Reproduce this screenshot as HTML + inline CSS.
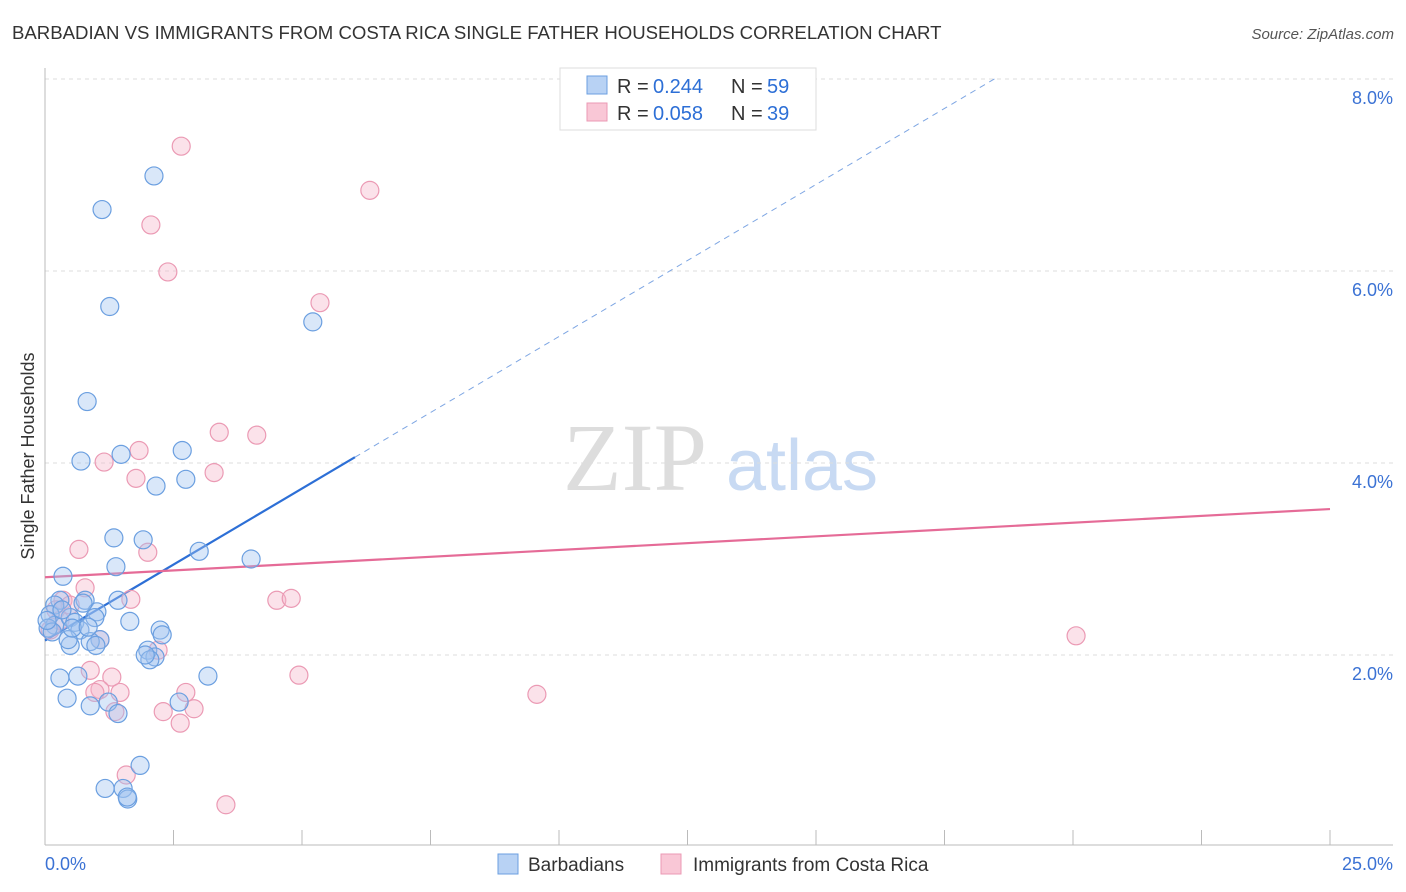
<!DOCTYPE html>
<html><head><meta charset="utf-8"><style>
body{margin:0;background:#fff;font-family:"Liberation Sans",sans-serif}
svg{display:block}
</style></head><body>
<svg id="chart" width="1406" height="892" xmlns="http://www.w3.org/2000/svg">
<text x="12" y="39" font-size="18.6" fill="#333">BARBADIAN VS IMMIGRANTS FROM COSTA RICA SINGLE FATHER HOUSEHOLDS CORRELATION CHART</text>
<text x="1394" y="39" font-size="15" fill="#555" font-style="italic" text-anchor="end">Source: ZipAtlas.com</text>
<g>
<text x="635" y="490" font-size="96" fill="#ddd" font-family="Liberation Serif,serif" text-anchor="middle">ZIP</text>
<text x="802" y="490" font-size="72" fill="#c8daf3" text-anchor="middle">atlas</text>
</g>
<g id="grid"></g>
<g id="axes"></g>
<g id="trends"></g>
<g id="points"></g>
<text transform="translate(34,456) rotate(-90)" font-size="18" fill="#333" text-anchor="middle">Single Father Households</text>
<g>
<rect x="560" y="68" width="256" height="62" fill="#fff" stroke="#ddd"/>
<rect x="587" y="76" width="20" height="18" fill="#b8d2f4" stroke="#6b9fe0"/>
<rect x="587" y="103" width="20" height="18" fill="#f9c7d6" stroke="#eb9ab4"/>
<text x="617" y="93" font-size="20" fill="#333">R =</text>
<text x="653" y="93" font-size="20" fill="#2d6fd6">0.244</text>
<text x="731" y="93" font-size="20" fill="#333">N =</text>
<text x="767" y="93" font-size="20" fill="#2d6fd6">59</text>
<text x="617" y="120" font-size="20" fill="#333">R =</text>
<text x="653" y="120" font-size="20" fill="#2d6fd6">0.058</text>
<text x="731" y="120" font-size="20" fill="#333">N =</text>
<text x="767" y="120" font-size="20" fill="#2d6fd6">39</text>
</g>
<g>
<rect x="498" y="854" width="20" height="20" fill="#b8d2f4" stroke="#6b9fe0"/>
<text x="528" y="871" font-size="19" fill="#333">Barbadians</text>
<rect x="661" y="854" width="20" height="20" fill="#f9c7d6" stroke="#eb9ab4"/>
<text x="693" y="871" font-size="19" fill="#333">Immigrants from Costa Rica</text>
</g>
</svg>
<script>
const yTicks=[2,4,6,8];
const yTickLabels=["2.0%","4.0%","6.0%","8.0%"];
const xTickCount=10;
const xLabels=["0.0%","25.0%"];
const blueX=[2.12,1.11,1.26,5.21,0.82,2.67,1.48,0.70,2.16,2.74,1.34,1.91,3.00,4.01,1.38,0.35,0.78,1.42,1.01,1.65,0.29,0.19,0.10,0.19,0.49,0.58,0.68,0.97,1.07,0.88,0.49,2.24,2.28,2.00,2.14,2.04,3.17,0.29,0.64,0.43,0.88,1.23,1.42,2.61,1.85,1.17,1.52,1.61,1.60,0.06,0.14,0.33,0.74,0.45,0.99,1.95,0.53,0.84,0.04];
const blueY=[6.99,6.64,5.63,5.47,4.64,4.13,4.09,4.02,3.76,3.83,3.22,3.20,3.08,3.00,2.92,2.82,2.57,2.57,2.45,2.35,2.57,2.52,2.42,2.31,2.39,2.34,2.26,2.39,2.16,2.14,2.10,2.26,2.21,2.05,1.98,1.95,1.78,1.76,1.78,1.55,1.47,1.51,1.39,1.51,0.85,0.61,0.61,0.50,0.52,2.28,2.24,2.47,2.54,2.16,2.10,2.00,2.28,2.29,2.36];
const pinkX=[2.65,6.32,2.06,2.39,5.35,3.39,4.12,1.83,1.15,3.29,1.77,0.66,2.00,0.78,1.67,4.51,4.79,0.35,0.49,0.21,0.29,0.10,1.07,2.20,0.88,4.94,1.30,1.07,0.97,1.46,2.74,9.57,20.06,2.30,2.90,2.63,1.36,1.58,3.52];
const pinkY=[7.30,6.84,6.48,5.99,5.67,4.32,4.29,4.13,4.01,3.90,3.84,3.10,3.07,2.70,2.58,2.57,2.59,2.57,2.52,2.47,2.36,2.26,2.16,2.05,1.84,1.79,1.77,1.64,1.61,1.61,1.61,1.59,2.20,1.41,1.44,1.29,1.41,0.75,0.44];
const blueTrend=[2.15,4.06,6.03,18.5];
const pinkTrend=[2.81,3.52];

const X0=45,X1=1330,Y0=847;
const sx=v=>X0+v/25*(X1-X0);
const sy=v=>Y0-v*96;
const NS="http://www.w3.org/2000/svg";
function mk(tag,attrs,parent){const e=document.createElementNS(NS,tag);for(const k in attrs)e.setAttribute(k,attrs[k]);parent.appendChild(e);return e;}
const grid=document.getElementById('grid'),axes=document.getElementById('axes'),tr=document.getElementById('trends'),pts=document.getElementById('points');
yTicks.forEach((t,i)=>{
 const l=mk('line',{x1:45,x2:1393,y1:sy(t),y2:sy(t),stroke:'#ddd','stroke-dasharray':'4,4'},grid);
 
 
 const tx=mk('text',{x:1393,y:sy(t)+25,'font-size':18,fill:'#3b72d4','text-anchor':'end'},axes);
 
 
 tx.textContent=yTickLabels[i];
});
const yl=mk('line',{x1:45,x2:45,y1:68,y2:845,stroke:'#bbb'},axes);


const xl=mk('line',{x1:45,x2:1393,y1:845,y2:845,stroke:'#bbb'},axes);


for(let i=1;i<=xTickCount;i++){
 const x=sx(i*25/xTickCount);
 const t=mk('line',{x1:x,x2:x,y1:830,y2:845,stroke:'#bbb'},axes);
 
 
}
const xa=mk('text',{x:45,y:870,'font-size':18,fill:'#3b72d4'},axes);


xa.textContent=xLabels[0];
const xb=mk('text',{x:1393,y:870,'font-size':18,fill:'#3b72d4','text-anchor':'end'},axes);


xb.textContent=xLabels[1];

pinkX.forEach((x,i)=>{
 const c=mk('circle',{cx:sx(x),cy:sy(pinkY[i]),r:9,fill:'rgba(246,182,202,0.4)',stroke:'#eb9ab4','stroke-width':1.2},pts);
 
 
});
blueX.forEach((x,i)=>{
 const c=mk('circle',{cx:sx(x),cy:sy(blueY[i]),r:9,fill:'rgba(160,196,240,0.4)',stroke:'#6b9fe0','stroke-width':1.2},pts);
 
 
});
const slope=(blueTrend[1]-blueTrend[0])/blueTrend[2];
const bs=mk('line',{x1:sx(0),y1:sy(blueTrend[0]),x2:sx(blueTrend[2]),y2:sy(blueTrend[1]),stroke:'#2d6fd6','stroke-width':2.2},tr);


const bd=mk('line',{x1:sx(blueTrend[2]),y1:sy(blueTrend[1]),x2:sx(blueTrend[3]),y2:sy(blueTrend[0]+slope*blueTrend[3]),stroke:'#7ea6e3','stroke-width':1,'stroke-dasharray':'6,5'},tr);


const pt=mk('line',{x1:sx(0),y1:sy(pinkTrend[0]),x2:sx(25),y2:sy(pinkTrend[1]),stroke:'#e56b97','stroke-width':2.2},tr);


</script>
</body></html>
